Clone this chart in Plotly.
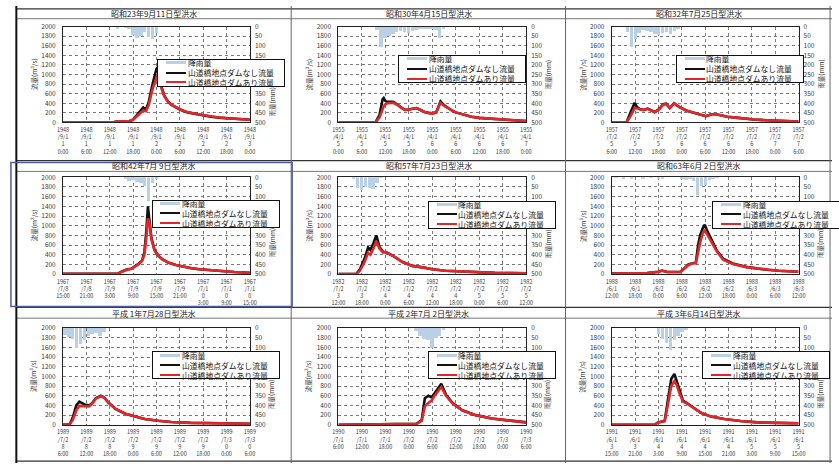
import plotly.graph_objects as go

W, H = 839, 467
FONT = "Noto Sans CJK JP"

# ---------------- text ----------------
titles = [
    "昭和23年9月11日型洪水", "昭和30年4月15日型洪水", "昭和32年7月25日型洪水",
    "昭和42年7月 9日型洪水", "昭和57年7月23日型洪水", "昭和63年6月 2日型洪水",
    "平成 1年7月28日型洪水", "平成 2年7月 2日型洪水", "平成 3年6月14日型洪水",
]
series_names = ["降雨量", "山道橋地点ダムなし流量", "山道橋地点ダムあり流量"]
flow_title = "流量(m³/s)"
rain_title = "雨量(mm)"
hour_ticks = [0, 6, 12, 18, 24, 30, 36, 42, 48]
rain_ticks = [0, 50, 100, 150, 200, 250, 300, 350, 400, 450, 500]

ticks_1948 = ["1948<br>/9/1<br>1<br>0:00", "1948<br>/9/1<br>1<br>6:00", "1948<br>/9/1<br>1<br>12:00",
              "1948<br>/9/1<br>1<br>18:00", "1948<br>/9/1<br>2<br>0:00", "1948<br>/9/1<br>2<br>6:00",
              "1948<br>/9/1<br>2<br>12:00", "1948<br>/9/1<br>2<br>18:00", "1948<br>/9/1<br>3<br>0:00"]
ticks_1955 = ["1955<br>/4/1<br>5<br>0:00", "1955<br>/4/1<br>5<br>6:00", "1955<br>/4/1<br>5<br>12:00",
              "1955<br>/4/1<br>5<br>18:00", "1955<br>/4/1<br>6<br>0:00", "1955<br>/4/1<br>6<br>6:00",
              "1955<br>/4/1<br>6<br>12:00", "1955<br>/4/1<br>6<br>18:00", "1955<br>/4/1<br>7<br>0:00"]
ticks_1957 = ["1957<br>/7/2<br>5<br>6:00", "1957<br>/7/2<br>5<br>12:00", "1957<br>/7/2<br>5<br>18:00",
              "1957<br>/7/2<br>6<br>0:00", "1957<br>/7/2<br>6<br>6:00", "1957<br>/7/2<br>6<br>12:00",
              "1957<br>/7/2<br>6<br>18:00", "1957<br>/7/2<br>7<br>0:00", "1957<br>/7/2<br>7<br>6:00"]
ticks_1967 = ["1967<br>/7/8<br>15:00", "1967<br>/7/8<br>21:00", "1967<br>/7/9<br>3:00",
              "1967<br>/7/9<br>9:00", "1967<br>/7/9<br>15:00", "1967<br>/7/9<br>21:00",
              "1967<br>/7/1<br>0<br>3:00", "1967<br>/7/1<br>0<br>9:00", "1967<br>/7/1<br>0<br>15:00"]
ticks_1982 = ["1982<br>/7/2<br>3<br>12:00", "1982<br>/7/2<br>3<br>18:00", "1982<br>/7/2<br>4<br>0:00",
              "1982<br>/7/2<br>4<br>6:00", "1982<br>/7/2<br>4<br>12:00", "1982<br>/7/2<br>4<br>18:00",
              "1982<br>/7/2<br>5<br>0:00", "1982<br>/7/2<br>5<br>6:00", "1982<br>/7/2<br>5<br>12:00"]
ticks_1988 = ["1988<br>/6/1<br>12:00", "1988<br>/6/1<br>18:00", "1988<br>/6/2<br>0:00",
              "1988<br>/6/2<br>6:00", "1988<br>/6/2<br>12:00", "1988<br>/6/2<br>18:00",
              "1988<br>/6/3<br>0:00", "1988<br>/6/3<br>6:00", "1988<br>/6/3<br>12:00"]
ticks_1989 = ["1989<br>/7/2<br>8<br>6:00", "1989<br>/7/2<br>8<br>12:00", "1989<br>/7/2<br>8<br>18:00",
              "1989<br>/7/2<br>9<br>0:00", "1989<br>/7/2<br>9<br>6:00", "1989<br>/7/2<br>9<br>12:00",
              "1989<br>/7/2<br>9<br>18:00", "1989<br>/7/3<br>0<br>0:00", "1989<br>/7/3<br>0<br>6:00"]
ticks_1990 = ["1990<br>/7/1<br>6:00", "1990<br>/7/1<br>12:00", "1990<br>/7/1<br>18:00",
              "1990<br>/7/2<br>0:00", "1990<br>/7/2<br>6:00", "1990<br>/7/2<br>12:00",
              "1990<br>/7/2<br>18:00", "1990<br>/7/3<br>0:00", "1990<br>/7/3<br>6:00"]
ticks_1991 = ["1991<br>/6/1<br>3<br>15:00", "1991<br>/6/1<br>3<br>21:00", "1991<br>/6/1<br>4<br>3:00",
              "1991<br>/6/1<br>4<br>9:00", "1991<br>/6/1<br>4<br>15:00", "1991<br>/6/1<br>4<br>21:00",
              "1991<br>/6/1<br>5<br>3:00", "1991<br>/6/1<br>5<br>9:00", "1991<br>/6/1<br>5<br>15:00"]

# ---------------- hourly rainfall (hours from start, mm) ----------------
rain_t_1948 = [14, 16, 17, 18, 19, 20, 21, 22, 23, 24]
rain_1948 = [8, 4, 6, 40, 56, 48, 28, 52, 65, 30]
rain_t_1955 = [10, 11, 12, 13, 14, 15, 16, 17, 18, 19, 20, 21, 22, 23, 24, 25, 26, 27]
rain_1955 = [15, 106, 55, 45, 35, 25, 20, 28, 30, 22, 15, 12, 8, 6, 6, 15, 55, 10]
rain_t_1957 = [4, 5, 6, 7, 8, 9, 10, 11, 12, 13, 14, 15, 16, 17]
rain_1957 = [25, 106, 60, 30, 18, 22, 28, 38, 42, 32, 28, 36, 22, 8]
rain_t_1967 = [16, 17, 18, 19, 20, 21, 22, 23, 24]
rain_1967 = [12, 22, 18, 25, 32, 48, 125, 30, 8]
rain_t_1982 = [4, 5, 6, 7, 8, 9, 10, 11]
rain_1982 = [10, 55, 65, 50, 58, 62, 30, 5]
rain_t_1988 = [1, 3, 5, 8, 10, 12, 13, 18, 19, 20, 21, 22, 23, 24, 25, 26, 27]
rain_1988 = [5, 6, 8, 6, 5, 12, 8, 10, 15, 12, 22, 92, 48, 40, 15, 10, 5]
rain_t_1989 = [0.5, 1.5, 2.5, 3.5, 4.5, 5.5, 6.5, 7.5, 8.5, 9.5, 10.5]
rain_1989 = [35, 45, 55, 105, 80, 60, 40, 30, 28, 42, 20]
rain_t_1990 = [20, 21, 22, 23, 24, 25, 26, 27]
rain_1990 = [15, 40, 55, 60, 105, 50, 40, 10]
rain_t_1991 = [12, 13, 14, 15, 16, 17, 18, 19]
rain_1991 = [30, 55, 75, 112, 60, 40, 20, 10]

# ---------------- discharge at 山道橋 (hours from start, m3/s) ----------------
t_1948 = [0, 13, 14, 17, 18, 19, 20, 20.6, 21.3, 22, 23, 24, 24.3, 25, 26, 27, 28, 30, 32, 34, 36, 38, 40, 42, 44, 46, 48]
q_nodam_1948 = [5, 5, 25, 25, 60, 160, 260, 310, 270, 420, 800, 1120, 1150, 820, 560, 430, 360, 270, 210, 175, 145, 120, 100, 85, 70, 60, 55]
q_dam_1948 = [5, 5, 25, 25, 55, 130, 220, 250, 235, 360, 700, 950, 1000, 780, 550, 430, 360, 275, 215, 180, 150, 125, 105, 88, 72, 62, 55]

t_1955 = [0, 9.5, 10.5, 11.3, 11.6, 12, 12.5, 14, 15, 16, 17, 18, 19, 20, 21, 22, 23, 24, 25, 25.6, 26.1, 27, 28, 29, 30, 32, 34, 36, 38, 40, 42, 44, 46, 48]
q_nodam_1955 = [5, 5, 150, 480, 510, 450, 430, 430, 380, 310, 260, 270, 290, 300, 260, 220, 200, 190, 210, 330, 440, 360, 300, 250, 210, 160, 120, 95, 80, 70, 60, 50, 40, 30]
q_dam_1955 = [5, 5, 100, 280, 340, 380, 400, 410, 370, 310, 260, 270, 290, 300, 260, 220, 200, 190, 205, 310, 410, 350, 295, 250, 210, 160, 120, 95, 80, 70, 60, 50, 40, 30]

t_1957 = [0, 3.8, 4.8, 5.9, 6.5, 7.2, 8.2, 9.2, 10.2, 11.0, 12.2, 13.2, 14.0, 14.9, 16.0, 17.4, 19.1, 21.2, 22.9, 24.2, 25.5, 26.3, 28.0, 29.7, 31.9, 34.0, 36.5, 39.9, 43.3, 48]
q_nodam_1957 = [5, 5, 200, 410, 320, 280, 260, 290, 250, 215, 280, 380, 390, 300, 400, 320, 250, 200, 160, 130, 165, 175, 150, 120, 100, 80, 60, 45, 30, 20]
q_dam_1957 = [5, 5, 130, 300, 290, 270, 255, 285, 250, 215, 275, 370, 385, 300, 395, 320, 250, 200, 160, 130, 165, 175, 150, 120, 100, 80, 60, 45, 30, 20]

t_1967 = [0, 14, 15, 16.5, 17.5, 18.5, 19.5, 20.3, 20.9, 21.4, 21.8, 22.2, 22.7, 23.5, 24.5, 25.5, 27, 29, 31, 33, 35, 38, 41, 44, 48]
q_nodam_1967 = [5, 5, 50, 100, 110, 160, 220, 280, 450, 900, 1400, 1100, 750, 500, 380, 310, 240, 190, 150, 120, 100, 80, 60, 45, 30]
q_dam_1967 = [5, 5, 45, 95, 105, 150, 210, 270, 400, 750, 1150, 1050, 720, 490, 375, 305, 240, 190, 150, 120, 100, 80, 60, 45, 30]

t_1982 = [0, 4.6, 5.5, 6.7, 7.6, 8.2, 9.0, 9.7, 10.5, 11.4, 12.2, 13.9, 16.4, 18.9, 21.5, 24, 27.4, 31.6, 35.8, 40, 44.2, 48]
q_nodam_1982 = [0, 5, 100, 320, 550, 500, 650, 800, 560, 460, 450, 380, 250, 170, 140, 100, 70, 50, 35, 25, 20, 15]
q_dam_1982 = [0, 5, 70, 250, 440, 400, 540, 680, 530, 450, 450, 380, 250, 170, 140, 100, 70, 50, 35, 25, 20, 15]

t_1988 = [0, 9.1, 12.0, 12.9, 14.2, 17.6, 18.4, 19.7, 21.0, 21.6, 22.2, 22.7, 23.4, 23.9, 24.5, 25.6, 26.9, 28.6, 31.1, 34.5, 38.7, 42.9, 48]
q_nodam_1988 = [10, 20, 50, 75, 45, 45, 100, 200, 230, 230, 600, 800, 950, 1020, 900, 700, 500, 320, 220, 150, 100, 70, 50]
q_dam_1988 = [10, 20, 50, 70, 45, 45, 95, 190, 225, 225, 450, 650, 850, 900, 820, 660, 480, 300, 210, 145, 100, 70, 50]

t_1989 = [0, 1.7, 2.5, 3.4, 4.2, 5.5, 6.7, 7.5, 8.4, 9.7, 10.5, 11.8, 13.5, 16, 18.5, 21, 24.4, 27.8, 32.8, 37.9, 43, 48]
q_nodam_1989 = [0, 10, 150, 400, 480, 420, 400, 450, 550, 600, 570, 450, 330, 230, 170, 120, 85, 60, 40, 30, 25, 20]
q_dam_1989 = [0, 10, 100, 300, 390, 385, 380, 440, 540, 590, 565, 445, 330, 230, 170, 120, 85, 60, 40, 30, 25, 20]

t_1990 = [0, 15, 20, 21.3, 22.1, 23.0, 23.8, 24.6, 25.9, 26.3, 27.5, 29.2, 31.7, 35.1, 39.2, 43.4, 48]
q_nodam_1990 = [0, 5, 20, 100, 550, 600, 570, 650, 800, 850, 620, 450, 300, 200, 130, 90, 50]
q_dam_1990 = [0, 5, 20, 80, 380, 450, 500, 600, 750, 780, 600, 440, 295, 200, 130, 90, 50]

t_1991 = [0, 11, 11.9, 13.6, 14.4, 15.3, 16.1, 16.7, 17.4, 18.3, 19.5, 21.2, 22.9, 25.5, 28.9, 33.1, 37.4, 42, 48]
q_nodam_1991 = [0, 0, 50, 80, 500, 950, 1050, 900, 700, 500, 440, 350, 250, 170, 120, 80, 50, 40, 30]
q_dam_1991 = [0, 0, 50, 75, 400, 800, 900, 820, 650, 480, 430, 345, 250, 170, 120, 80, 50, 40, 30]

events = [
    (ticks_1948, rain_t_1948, rain_1948, t_1948, q_nodam_1948, q_dam_1948),
    (ticks_1955, rain_t_1955, rain_1955, t_1955, q_nodam_1955, q_dam_1955),
    (ticks_1957, rain_t_1957, rain_1957, t_1957, q_nodam_1957, q_dam_1957),
    (ticks_1967, rain_t_1967, rain_1967, t_1967, q_nodam_1967, q_dam_1967),
    (ticks_1982, rain_t_1982, rain_1982, t_1982, q_nodam_1982, q_dam_1982),
    (ticks_1988, rain_t_1988, rain_1988, t_1988, q_nodam_1988, q_dam_1988),
    (ticks_1989, rain_t_1989, rain_1989, t_1989, q_nodam_1989, q_dam_1989),
    (ticks_1990, rain_t_1990, rain_1990, t_1990, q_nodam_1990, q_dam_1990),
    (ticks_1991, rain_t_1991, rain_1991, t_1991, q_nodam_1991, q_dam_1991),
]

# ---------------- page geometry (pixels) ----------------
col_x = [(57, 247), (337, 528), (615, 805)]
row_y = [(21, 119), (175, 274), (329, 428)]
cell_cx = [149, 429, 704]
title_cy = [8, 163.5, 314]
legend_xy = [(153, 54), (398, 50), (680, 50), (147, 198), (428, 199),
             (717, 199), (147, 353), (428, 353), (707, 353)]
LEG_W, LEG_H = 128, 28
LEG_FONT = 7.8
LEG_STEP = LEG_FONT * 1.3  # plotly line spacing for <br> text

RAIN_C = "#b9d0e6"
NODAM_C = "#111111"
DAM_C = "#e3262a"
TICK_C = "#3a3a3a"
GRID_C = "#7a7a7a"


def fx(v):
    return v / W


def fy(v):
    return 1 - v / H


fig = go.Figure()
axes = {}
notes = []
legend_notes = []

for k, (ticks, rt, rain, t, q0, q1) in enumerate(events):
    r, c = divmod(k, 3)
    n = k + 1
    xa = "x" if n == 1 else f"x{n}"
    yf_i, yr_i = 2 * n - 1, 2 * n
    yf = "y" if yf_i == 1 else f"y{yf_i}"
    yr = f"y{yr_i}"
    x0, x1 = col_x[c]
    y0, y1 = row_y[r]
    lx, ly = legend_xy[k]
    leg_over_right = lx + LEG_W > x1 + 4

    fig.add_trace(go.Scatter(x=t, y=q0, xaxis=xa, yaxis=yf, mode="lines", name=series_names[1],
                             line=dict(color=NODAM_C, width=2.6), showlegend=False))
    fig.add_trace(go.Scatter(x=t, y=q1, xaxis=xa, yaxis=yf, mode="lines", name=series_names[2],
                             line=dict(color=DAM_C, width=2.6), showlegend=False))
    fig.add_trace(go.Bar(x=rt, y=rain, xaxis=xa, yaxis=yr, name=series_names[0], width=0.9,
                         marker=dict(color=RAIN_C, line=dict(width=0)), showlegend=False))

    # right-hand labels that sit behind the legend box are not drawn
    rain_shown = [v for v in rain_ticks
                  if not (leg_over_right and ly - 3 < y0 + v / 500 * (y1 - y0) < ly + LEG_H + 3)]

    axes["xaxis" + ("" if n == 1 else str(n))] = dict(
        domain=[fx(x0), fx(x1)], anchor=yf, range=[0, 48],
        tickmode="array", tickvals=hour_ticks, ticktext=ticks,
        tickfont=dict(size=5.5, color=TICK_C), ticks="", ticklabelstandoff=2,
        showgrid=True, gridcolor=GRID_C, griddash="dot", gridwidth=1,
        showline=True, mirror=True, linecolor="#222", linewidth=1, zeroline=False,
    )
    axes["yaxis" + ("" if yf_i == 1 else str(yf_i))] = dict(
        domain=[fy(y1), fy(y0)], anchor=xa, range=[0, 2000], tick0=0, dtick=200,
        tickfont=dict(size=6.5, color=TICK_C), ticks="", ticklabelstandoff=5,
        showgrid=True, gridcolor=GRID_C, griddash="dot", gridwidth=1,
        showline=True, mirror=True, linecolor="#222", linewidth=1, zeroline=False,
    )
    axes[f"yaxis{yr_i}"] = dict(
        overlaying=yf, side="right", anchor=xa, range=[500, 0],
        tickmode="array", tickvals=rain_shown,
        tickfont=dict(size=6.5, color=TICK_C), ticks="", ticklabelstandoff=4,
        showgrid=False, showline=False, zeroline=False,
    )

    # event title
    notes.append(dict(x=fx(cell_cx[c]), y=fy(title_cy[r]), xref="paper", yref="paper",
                      text=titles[k], showarrow=False, xanchor="center", yanchor="middle",
                      font=dict(size=8, color="#222")))
    # axis titles
    ymid = (y0 + y1) / 2
    notes.append(dict(x=fx(x0 - 30), y=fy(ymid), xref="paper", yref="paper", text=flow_title,
                      textangle=-90, showarrow=False, xanchor="center", yanchor="middle",
                      font=dict(size=6.5, color=TICK_C)))
    ry_mid = ymid
    if lx + LEG_W > x1 + 18 and ly - 14 < ymid < ly + LEG_H + 14:
        ry_mid = ly + LEG_H + 16
    notes.append(dict(x=fx(x1 + 22), y=fy(ry_mid), xref="paper", yref="paper", text=rain_title,
                      textangle=-90, showarrow=False, xanchor="center", yanchor="middle",
                      font=dict(size=6.5, color=TICK_C)))

    # legend: white framed box, three key swatches and the three series names
    cy = ly + LEG_H / 2
    legend_notes.append(dict(x=fx(lx), y=fy(ly), xref="paper", yref="paper", text=" ",
                             showarrow=False, xanchor="left", yanchor="top",
                             width=LEG_W - 2, height=LEG_H - 2,
                             bgcolor="white", bordercolor="#111", borderwidth=1, borderpad=0,
                             font=dict(size=2)))
    keys = [(RAIN_C, 3), (NODAM_C, 2), (DAM_C, 2)]
    for j, (kc, kh) in enumerate(keys):
        legend_notes.append(dict(x=fx(lx + 9), y=fy(cy + (j - 1) * LEG_STEP), xref="paper",
                                 yref="paper", text=" ", showarrow=False, xanchor="left",
                                 yanchor="middle", width=20, height=kh, bgcolor=kc,
                                 borderwidth=0, borderpad=0, font=dict(size=1)))
    legend_notes.append(dict(x=fx(lx + 30), y=fy(cy), xref="paper", yref="paper",
                             text="<br>".join(series_names), align="left",
                             showarrow=False, xanchor="left", yanchor="middle", borderpad=0,
                             font=dict(size=LEG_FONT, color="#111")))

# table rules of the page
shapes = []


def hline(y, x0=9, x1=839, color="#444", width=1):
    shapes.append(dict(type="line", xref="paper", yref="paper", x0=fx(x0), x1=fx(x1),
                       y0=fy(y), y1=fy(y), line=dict(color=color, width=width)))


def vline(x, y0=0, y1=467, color="#444", width=1):
    shapes.append(dict(type="line", xref="paper", yref="paper", x0=fx(x), x1=fx(x),
                       y0=fy(y0), y1=fy(y1), line=dict(color=color, width=width)))


for yb in (3, 158, 308):
    hline(yb, color="#333", width=1.2)
for yb in (13, 169, 319):
    hline(yb, color="#777", width=1)
hline(465, color="#333", width=1.2)
vline(9.5, color="#111", width=2)
vline(289, color="#666")
vline(568, color="#666")
vline(837, color="#666")
shapes.append(dict(type="rect", xref="paper", yref="paper", x0=fx(4), x1=fx(290),
                   y0=fy(307), y1=fy(160), line=dict(color="#4c5c9c", width=1.5)))

fig.update_layout(
    width=W, height=H, margin=dict(l=0, r=0, t=0, b=0),
    paper_bgcolor="white", plot_bgcolor="white",
    font=dict(family=FONT, color=TICK_C),
    showlegend=False, bargap=0,
    annotations=notes + legend_notes, shapes=shapes,
    **axes,
)

fig.write_html("out.html")
